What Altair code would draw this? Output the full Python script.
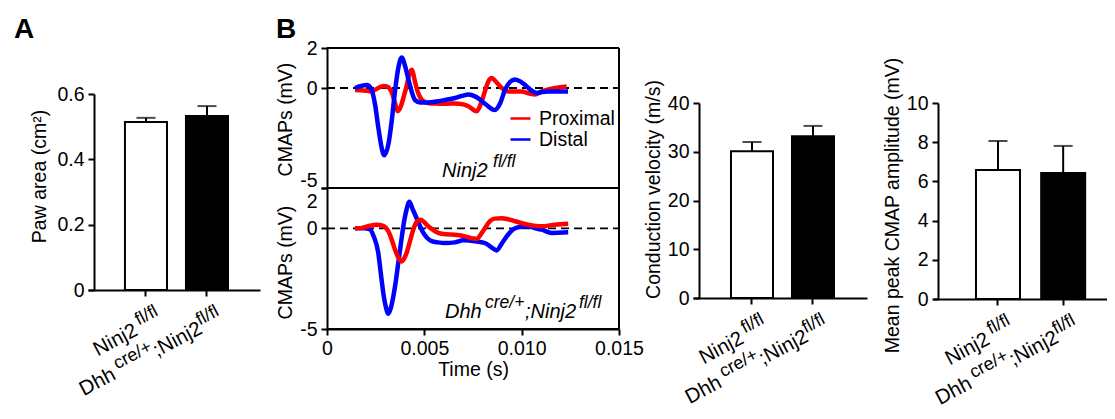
import altair as alt
import pandas as pd

FONT = "Liberation Sans"
W, H, M = 1099, 403, 8

# ---------------- data ----------------
GROUPS = ["Ninj2 fl/fl", "Dhh cre/+;Ninj2 fl/fl"]
BAR_COLORS = ["#ffffff", "#000000"]

PAW_MEAN = [0.514, 0.533]
PAW_SEM = [0.013, 0.030]
CV_MEAN = [30.1, 33.2]
CV_SEM = [1.9, 2.1]
AMP_MEAN = [6.58, 6.43]
AMP_SEM = [1.48, 1.38]

SERIES = ["Proximal", "Distal"]
SERIES_COLORS = ["#ff0000", "#0000ff"]

# Ninj2 fl/fl traces: time (ms), CMAP (mV)
FL_PROX_T = [1.44, 1.9, 2.29, 2.63, 2.9, 3.06, 3.32, 3.48, 3.63, 3.8, 3.95, 4.09, 4.2, 4.35, 4.52, 4.6, 4.75, 4.95, 5.25, 5.55,
             6.1, 6.57, 7.0, 7.26, 7.69, 7.9, 8.11, 8.3, 8.46, 8.65, 8.89, 9.31, 10.0, 10.4, 10.68, 11.03, 11.71, 12.31]
FL_PROX_V = [-0.1, -0.12, -0.17, 0.0, 0.1, 0.08, -0.2, -0.7, -1.16, -0.9, -0.4, 0.1, 0.6, 0.91, 0.32, 0.0, -0.4, -0.66, -0.76, -0.78,
             -0.79, -0.77, -0.82, -0.91, -1.16, -0.8, -0.17, 0.35, 0.5, 0.35, 0.08, -0.17, -0.17, -0.28, -0.33, -0.17, 0.0, 0.08]
FL_DIST_T = [1.44, 1.75, 2.04, 2.25, 2.47, 2.64, 2.81, 2.94, 3.15, 3.32, 3.49, 3.66, 3.84, 4.04, 4.21, 4.35, 4.52, 4.78, 5.2, 5.6,
             6.06, 6.57, 6.98, 7.26, 7.6, 7.86, 8.2, 8.62, 8.9, 9.14, 9.4, 9.66, 9.95, 10.26, 10.5, 10.77, 11.05, 11.35, 11.8, 12.38]
FL_DIST_V = [0.0, 0.1, 0.15, 0.0, -0.83, -2.0, -3.0, -3.36, -2.83, -1.68, -0.18, 0.99, 1.52, 0.99, 0.32, -0.18, -0.6, -0.72, -0.72, -0.68,
             -0.6, -0.5, -0.38, -0.33, -0.42, -0.58, -0.85, -1.1, -0.75, -0.1, 0.3, 0.43, 0.32, 0.08, -0.12, -0.25, -0.2, -0.17, -0.17, -0.17]

# Dhh cre/+;Ninj2 fl/fl traces
KO_PROX_T = [1.44, 1.8, 2.12, 2.55, 2.89, 3.15, 3.32, 3.49, 3.66, 3.83, 3.96, 4.09, 4.26, 4.43, 4.6, 4.8, 5.0, 5.2, 5.45, 5.72,
             6.1, 6.57, 7.09, 7.5, 7.69, 7.9, 8.11, 8.37, 8.6, 8.97, 9.3, 9.66, 10.34, 11.03, 11.71, 12.39]
KO_PROX_V = [0.0, 0.02, 0.1, 0.18, 0.12, -0.15, -0.55, -1.05, -1.45, -1.65, -1.5, -1.22, -0.65, -0.07, 0.3, 0.42, 0.3, 0.1, -0.08, -0.23,
             -0.3, -0.32, -0.4, -0.5, -0.53, -0.3, 0.0, 0.35, 0.48, 0.5, 0.45, 0.35, 0.18, 0.1, 0.18, 0.23]
KO_DIST_T = [1.44, 1.9, 2.21, 2.4, 2.63, 2.76, 2.89, 3.02, 3.15, 3.28, 3.41, 3.54, 3.66, 3.79, 3.92, 4.08, 4.23, 4.4, 4.6, 4.78,
             4.95, 5.15, 5.38, 5.7, 6.06, 6.57, 7.0, 7.6, 8.11, 8.45, 8.72, 8.95, 9.23, 9.45, 9.66, 10.0, 10.34, 10.7, 11.03, 11.54, 12.39]
KO_DIST_V = [0.0, 0.0, -0.05, -0.4, -1.2, -2.2, -3.2, -3.9, -4.24, -3.95, -3.37, -2.6, -1.72, -0.8, 0.1, 0.9, 1.32, 0.95, 0.51, 0.1,
             -0.23, -0.48, -0.64, -0.7, -0.73, -0.7, -0.6, -0.64, -0.73, -0.95, -1.1, -0.8, -0.4, -0.15, 0.0, 0.08, 0.1, 0.0, -0.07, -0.23, -0.2]

TIME_DOMAIN = [0, 0.015]
TIME_TICKS = [0, 0.005, 0.010, 0.015]
CMAP_DOMAIN = [-5, 2]
CMAP_TICKS = [-5, 0, 2]


def px(v):
    return v - M


ONE = pd.DataFrame({"k": [0]})


# ---------------- bar panels ----------------
def tick_labels(X, Ydat):
    # (group, text, superscript?, right-edge offset along the rotated baseline)
    parts = [
        (GROUPS[0], "Ninj2", False, -27),
        (GROUPS[0], "fl/fl", True, 0),
        (GROUPS[1], "Dhh", False, -121),
        (GROUPS[1], "cre/+", True, -76),
        (GROUPS[1], ";Ninj2", False, -23),
        (GROUPS[1], "fl/fl", True, 0),
    ]
    out = []
    for g, txt, sup, dx in parts:
        out.append(
            alt.Chart(pd.DataFrame({"group": [g], "txt": [txt]}))
            .mark_text(align="right", baseline="alphabetic", angle=332, dx=dx,
                       dy=(28 if sup else 36), font=FONT, fontSize=(18 if sup else 20.5), color="black")
            .encode(x=X, y=Ydat, text="txt:N")
        )
    return out


def bar_panel(means, sems, ymax, yticks, yfmt, ytitle, xr, yr, yaxis_x, pi, po, align, title_y, title_pad):
    df = pd.DataFrame({"group": GROUPS, "mean": means, "sem": sems})
    xs = alt.Scale(domain=GROUPS, range=[px(xr[0]), px(xr[1])], paddingInner=pi, paddingOuter=po, align=align)
    ys = alt.Scale(domain=[0, ymax], range=[px(yr[0]), px(yr[1])], nice=False, zero=True)
    xaxis = alt.Axis(orient="bottom", offset=-(H - px(yr[0])), labels=False, title=None)
    yaxis = alt.Axis(orient="left", offset=-px(yaxis_x), values=yticks,
                     labelExpr=f"datum.value == 0 ? '0' : format(datum.value, '{yfmt}')",
                     title=ytitle, titleY=px(title_y), titlePadding=title_pad)
    X = alt.X("group:N", scale=xs, axis=xaxis)
    base = alt.Chart(df).transform_calculate(top="datum.mean + datum.sem")
    bars = base.mark_bar(stroke="black", strokeWidth=2).encode(
        x=X,
        y=alt.Y("mean:Q", scale=ys, axis=yaxis),
        fill=alt.Fill("group:N", scale=alt.Scale(domain=GROUPS, range=BAR_COLORS), legend=None),
    )
    whisk = base.mark_rule(color="black", strokeWidth=2).encode(
        x=X, y=alt.Y("mean:Q", scale=ys, axis=yaxis), y2="top:Q")
    cap = base.mark_tick(color="black", thickness=2, size=19).encode(
        x=X, y=alt.Y("top:Q", scale=ys, axis=yaxis))
    Ydat = alt.YDatum(0, type="quantitative", scale=ys, axis=yaxis)
    return alt.layer(bars, whisk, cap, *tick_labels(X, Ydat))


panelA = bar_panel(PAW_MEAN, PAW_SEM, 0.6, [0, 0.2, 0.4, 0.6], ".1f", "Paw area (cm²)",
                   xr=[88, 260], yr=[290, 94], yaxis_x=94, pi=0.311, po=0.565, align=0.536,
                   title_y=176, title_pad=7)
panelC = bar_panel(CV_MEAN, CV_SEM, 40, [0, 10, 20, 30, 40], "d", "Conduction velocity (m/s)",
                   xr=[693, 867], yr=[298, 103], yaxis_x=699, pi=0.311, po=0.582, align=0.535,
                   title_y=189, title_pad=4)
panelD = bar_panel(AMP_MEAN, AMP_SEM, 10, [0, 2, 4, 6, 8, 10], "d", "Mean peak CMAP amplitude (mV)",
                   xr=[933, 1113], yr=[299, 103], yaxis_x=938, pi=0.325, po=0.543, align=0.607,
                   title_y=205, title_pad=4)


# ---------------- trace panels ----------------
def trace_panel(prox_t, prox_v, dist_t, dist_v, yr, show_x, title_y, order, legend, annot,
                top_label_shift, bottom_label_shift):
    rows = [{"series": "Proximal", "t": t / 1000.0, "v": v} for t, v in zip(prox_t, prox_v)]
    rows += [{"series": "Distal", "t": t / 1000.0, "v": v} for t, v in zip(dist_t, dist_v)]
    df = pd.DataFrame(rows)
    xs = alt.Scale(domain=TIME_DOMAIN, range=[px(327), px(619)], nice=False, zero=False)
    ys = alt.Scale(domain=CMAP_DOMAIN, range=[px(yr[0]), px(yr[1])], nice=False, zero=False)
    if show_x:
        xaxis = alt.Axis(orient="bottom", offset=-(H - px(yr[0])), values=TIME_TICKS,
                         labelExpr="datum.value == 0 ? '0' : format(datum.value, '.3f')",
                         title="Time (s)", titlePadding=3)
    else:
        xaxis = None
    yaxis = alt.Axis(orient="left", offset=-px(327), values=CMAP_TICKS,
                     labelExpr="datum.value < 0 ? '-' + format(-datum.value, 'd') : format(datum.value, 'd')",
                     labelOffset={"condition": [
                         {"test": f"datum.value == {CMAP_DOMAIN[1]}", "value": top_label_shift},
                         {"test": f"datum.value == {CMAP_DOMAIN[0]}", "value": bottom_label_shift}],
                         "value": 0},
                     title="CMAPs (mV)", titleY=px(title_y), titlePadding=4)

    def XD(val):
        return alt.XDatum(val, type="quantitative", scale=xs, axis=xaxis)

    def YD(val):
        return alt.YDatum(val, type="quantitative", scale=ys, axis=yaxis)

    layers = []
    # zero line
    layers.append(alt.Chart(ONE).mark_rule(color="black", strokeWidth=1.8, strokeDash=[8, 5]).encode(
        x=XD(TIME_DOMAIN[0]), x2=alt.X2Datum(TIME_DOMAIN[1]), y=YD(0)))
    stroke = alt.Stroke("series:N", scale=alt.Scale(domain=SERIES, range=SERIES_COLORS), legend=legend)
    for s in order:
        layers.append(
            alt.Chart(df).transform_filter(alt.datum.series == s)
            .mark_line(strokeWidth=4.5, interpolate="monotone")
            .encode(x=alt.X("t:Q", scale=xs, axis=xaxis), y=alt.Y("v:Q", scale=ys, axis=yaxis), stroke=stroke)
        )
    # frame: top, bottom, right
    layers.append(alt.Chart(ONE).mark_rule(color="black", strokeWidth=2).encode(
        x=XD(TIME_DOMAIN[0]), x2=alt.X2Datum(TIME_DOMAIN[1]), y=YD(CMAP_DOMAIN[1])))
    layers.append(alt.Chart(ONE).mark_rule(color="black", strokeWidth=2).encode(
        x=XD(TIME_DOMAIN[0]), x2=alt.X2Datum(TIME_DOMAIN[1]), y=YD(CMAP_DOMAIN[0])))
    layers.append(alt.Chart(ONE).mark_rule(color="black", strokeWidth=2).encode(
        x=XD(TIME_DOMAIN[1]), y=YD(CMAP_DOMAIN[0]), y2=alt.Y2Datum(CMAP_DOMAIN[1])))
    # italic genotype annotation
    t0, v0, parts = annot
    for txt, sup, dx in parts:
        layers.append(alt.Chart(ONE).mark_text(
            align="left", baseline="alphabetic", dx=dx, dy=(-10 if sup else 0), font=FONT,
            fontStyle="italic", fontSize=(17.5 if sup else 20), color="black", text=txt
        ).encode(x=XD(t0), y=YD(v0)))
    return alt.layer(*layers)


LEGEND = alt.Legend(orient="none", legendX=px(509), legendY=px(107), title=None, symbolType="stroke",
                    symbolSize=400, symbolStrokeWidth=2.5, labelFont=FONT, labelFontSize=19.5,
                    labelColor="black", padding=0, rowPadding=0, labelOffset=7)

panelB_top = trace_panel(FL_PROX_T, FL_PROX_V, FL_DIST_T, FL_DIST_V, yr=[188, 48], show_x=False,
                         title_y=119, order=["Proximal", "Distal"], legend=LEGEND,
                         annot=(0.00591, -4.45, [("Ninj2", False, 0), ("fl/fl", True, 51)]),
                         top_label_shift=0, bottom_label_shift=-8)
panelB_bot = trace_panel(KO_PROX_T, KO_PROX_V, KO_DIST_T, KO_DIST_V, yr=[329, 188], show_x=True,
                         title_y=262, order=["Distal", "Proximal"], legend=LEGEND,
                         annot=(0.00606, -4.45, [("Dhh", False, 0), ("cre/+", True, 40),
                                                 (";Ninj2", False, 80), ("fl/fl", True, 134)]),
                         top_label_shift=13, bottom_label_shift=0)

# panel letters
letters = alt.layer(
    alt.Chart(ONE).mark_text(text="A", font=FONT, fontSize=28, fontWeight="bold", align="left",
                             baseline="alphabetic", color="black").encode(x=alt.value(px(14)), y=alt.value(px(38))),
    alt.Chart(ONE).mark_text(text="B", font=FONT, fontSize=28, fontWeight="bold", align="left",
                             baseline="alphabetic", color="black").encode(x=alt.value(px(276)), y=alt.value(px(38))),
)

chart = (
    alt.layer(panelA, panelC, panelD, panelB_top, panelB_bot, letters)
    .resolve_scale(x="independent", y="independent")
    .resolve_axis(x="independent", y="independent")
    .properties(width=W, height=H, autosize=alt.AutoSizeParams(type="none"), padding=0)
    .configure_view(stroke=None)
    .configure_axis(labelFont=FONT, titleFont=FONT, labelFontSize=19.5, titleFontSize=19.5,
                    titleFontWeight="normal", labelColor="black", titleColor="black",
                    domainColor="black", tickColor="black", domainWidth=2, tickWidth=2,
                    tickSize=6, labelPadding=4, grid=False, labelFlush=False, labelOverlap=False)
)

chart.save("out.html", embed_options={"renderer": "svg", "actions": False})
